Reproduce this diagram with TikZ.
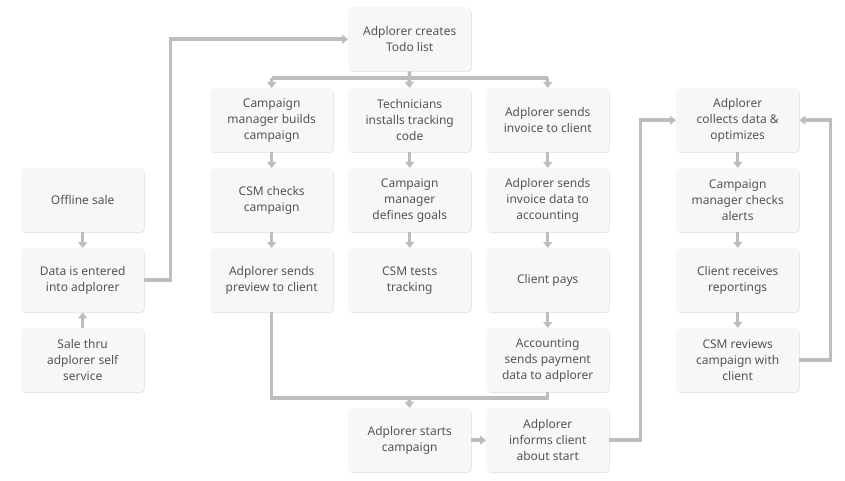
\documentclass[tikz,border=0pt]{standalone}
\usepackage{fontspec}
\setmainfont{Noto Sans}
\usetikzlibrary{arrows.meta,shadows}
\definecolor{boxfill}{HTML}{F7F7F7}
\definecolor{linec}{HTML}{BDBDBD}
\definecolor{txt}{HTML}{555555}
\tikzset{
  box/.style={draw=none,fill=boxfill,rounded corners=4pt,minimum width=123pt,minimum height=64pt,
    align=center,font=\fontsize{12}{16}\selectfont,text=txt,anchor=north west,
    drop shadow={shadow xshift=0.6pt,shadow yshift=-0.8pt,opacity=0.25,fill=black!40}},
  conn/.style={draw=linec,line width=3.5pt,-{Triangle[length=6pt,width=9pt]}},
  seg/.style={draw=linec,line width=3.5pt}
}
\begin{document}
\begin{tikzpicture}[x=1pt,y=-1pt]
\useasboundingbox (0,0) rectangle (845,481);
\node[box] (todo) at (348,7) {Adplorer creates\\Todo list};
\node[box] (c1r1) at (210,88) {Campaign\\manager builds\\campaign};
\node[box] (c1r2) at (210,168) {CSM checks\\campaign};
\node[box] (c1r3) at (210,248) {Adplorer sends\\preview to client};
\node[box] (c2r1) at (348,88) {Technicians\\installs tracking\\code};
\node[box] (c2r2) at (348,168) {Campaign\\manager\\defines goals};
\node[box] (c2r3) at (348,248) {CSM tests\\tracking};
\node[box] (c3r1) at (486,88) {Adplorer sends\\invoice to client};
\node[box] (c3r2) at (486,168) {Adplorer sends\\invoice data to\\accounting};
\node[box] (c3r3) at (486,248) {Client pays};
\node[box] (c3r4) at (486,328) {Accounting\\sends payment\\data to adplorer};
\node[box] (start) at (348,408) {Adplorer starts\\campaign};
\node[box] (inform) at (486,408) {Adplorer\\informs client\\about start};
\node[box] (off) at (21,168) {Offline sale};
\node[box] (data) at (21,248) {Data is entered\\into adplorer};
\node[box] (self) at (21,328) {Sale thru\\adplorer self\\service};
\node[box] (c4r1) at (676,88) {Adplorer\\collects data \&\\optimizes};
\node[box] (c4r2) at (676,168) {Campaign\\manager checks\\alerts};
\node[box] (c4r3) at (676,248) {Client receives\\reportings};
\node[box] (c4r4) at (676,328) {CSM reviews\\campaign with\\client};
\coordinate (j1) at (409,78);
\coordinate (j2) at (409,398);
\draw[conn] (off) -- (data);
\draw[conn] (self) -- (data);
\draw[conn] (data.east) -- ++(26,0) |- (todo.west);
\draw[seg] (todo.south) -- (j1);
\draw[seg] (c1r1.north |- j1) -- (c3r1.north |- j1);
\draw[conn] (c1r1.north |- j1) -- (c1r1.north);
\draw[conn] (j1) -- (c2r1.north);
\draw[conn] (c3r1.north |- j1) -- (c3r1.north);
\draw[conn] (c1r1) -- (c1r2);
\draw[conn] (c1r2) -- (c1r3);
\draw[conn] (c2r1) -- (c2r2);
\draw[conn] (c2r2) -- (c2r3);
\draw[conn] (c3r1) -- (c3r2);
\draw[conn] (c3r2) -- (c3r3);
\draw[conn] (c3r3) -- (c3r4);
\draw[seg] (c1r3.south) -- (c1r3.south |- j2) -- (c3r4.south |- j2) -- (c3r4.south);
\draw[conn] (j2) -- (start.north);
\draw[conn] (start) -- (inform);
\draw[conn] (inform.east) -- ++(31,0) |- (c4r1.west);
\draw[conn] (c4r1) -- (c4r2);
\draw[conn] (c4r2) -- (c4r3);
\draw[conn] (c4r3) -- (c4r4);
\draw[conn] (c4r4.east) -- ++(31,0) |- (c4r1.east);
\end{tikzpicture}
\end{document}
